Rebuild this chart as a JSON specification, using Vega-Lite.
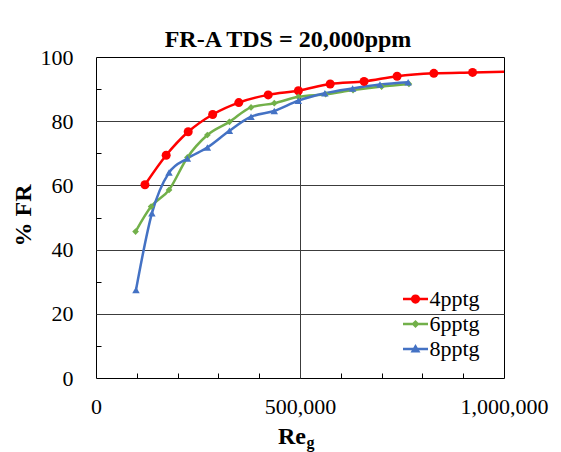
{
  "$schema": "https://vega.github.io/schema/vega-lite/v6.json",
  "width": 408,
  "height": 321,
  "autosize": {"type": "none"},
  "padding": {"left": 96, "top": 57, "right": 57, "bottom": 74},
  "background": "white",
  "title": {
    "text": "FR-A TDS = 20,000ppm",
    "font": "Liberation Serif",
    "fontSize": 24,
    "fontWeight": "bold",
    "color": "black",
    "anchor": "middle",
    "frame": "group",
    "dx": -12,
    "dy": 35,
    "baseline": "alphabetic",
    "offset": 10
  },
  "config": {
    "view": {"stroke": "black", "strokeWidth": 1},
    "font": "Liberation Serif",
    "legend": {
      "orient": "none",
      "legendX": 305.5,
      "legendY": 228,
      "padding": 0,
      "labelFont": "Liberation Serif",
      "labelFontSize": 22,
      "labelColor": "black",
      "labelOffset": 0,
      "symbolSize": 625,
      "symbolStrokeWidth": 2.5,
      "symbolOpacity": 1,
      "rowPadding": 0
    }
  },
  "resolve": {"axis": {"x": "independent"}},
  "data": {
    "values": [
      {"series": "4pptg", "re": 120000, "fr": 60.2},
      {"series": "4pptg", "re": 172000, "fr": 69.4},
      {"series": "4pptg", "re": 226000, "fr": 76.7},
      {"series": "4pptg", "re": 286000, "fr": 82.1},
      {"series": "4pptg", "re": 350000, "fr": 85.8},
      {"series": "4pptg", "re": 422000, "fr": 88.2},
      {"series": "4pptg", "re": 496000, "fr": 89.5},
      {"series": "4pptg", "re": 574000, "fr": 91.6},
      {"series": "4pptg", "re": 657000, "fr": 92.4},
      {"series": "4pptg", "re": 738000, "fr": 94.0},
      {"series": "4pptg", "re": 828000, "fr": 94.9},
      {"series": "4pptg", "re": 923000, "fr": 95.2},
      {"series": "4pptg", "re": 1020000, "fr": 95.5},
      {"series": "6pptg", "re": 97000, "fr": 45.6},
      {"series": "6pptg", "re": 135000, "fr": 53.4},
      {"series": "6pptg", "re": 179000, "fr": 58.6},
      {"series": "6pptg", "re": 224000, "fr": 68.7},
      {"series": "6pptg", "re": 273000, "fr": 75.7},
      {"series": "6pptg", "re": 327000, "fr": 79.8},
      {"series": "6pptg", "re": 380000, "fr": 84.3},
      {"series": "6pptg", "re": 437000, "fr": 85.6},
      {"series": "6pptg", "re": 496000, "fr": 87.6},
      {"series": "6pptg", "re": 563000, "fr": 88.4},
      {"series": "6pptg", "re": 630000, "fr": 89.7},
      {"series": "6pptg", "re": 700000, "fr": 90.8},
      {"series": "6pptg", "re": 767000, "fr": 91.6},
      {"series": "8pptg", "re": 98000, "fr": 27.4},
      {"series": "8pptg", "re": 137000, "fr": 51.3},
      {"series": "8pptg", "re": 179000, "fr": 64.0},
      {"series": "8pptg", "re": 224000, "fr": 68.4},
      {"series": "8pptg", "re": 273000, "fr": 71.8},
      {"series": "8pptg", "re": 327000, "fr": 77.0},
      {"series": "8pptg", "re": 380000, "fr": 81.4},
      {"series": "8pptg", "re": 437000, "fr": 83.2},
      {"series": "8pptg", "re": 496000, "fr": 86.4},
      {"series": "8pptg", "re": 561000, "fr": 88.7},
      {"series": "8pptg", "re": 629000, "fr": 90.2},
      {"series": "8pptg", "re": 696000, "fr": 91.4},
      {"series": "8pptg", "re": 765000, "fr": 92.1}
    ]
  },
  "encoding": {
    "x": {
      "field": "re",
      "type": "quantitative",
      "scale": {"domain": [0, 1000000], "nice": false, "zero": false},
      "axis": null
    },
    "y": {
      "field": "fr",
      "type": "quantitative",
      "scale": {"domain": [0, 100], "nice": false},
      "axis": {
        "values": [0, 10, 20, 30, 40, 50, 60, 70, 80, 90, 100],
        "labelExpr": "datum.value % 20 === 0 ? datum.label : ''",
        "grid": true,
        "gridColor": {"condition": {"test": "datum.value % 20 === 0 && datum.value > 0 && datum.value < 100", "value": "#3c3c3c"}, "value": "transparent"},
        "gridWidth": 1,
        "tickSize": -5,
        "tickColor": {"condition": {"test": "datum.value % 20 === 0", "value": "transparent"}, "value": "black"},
        "labelPadding": 28,
        "labelFont": "Liberation Serif",
        "labelFontSize": 22,
        "labelColor": "black",
        "labelFlush": false,
        "labelOverlap": false,
        "domain": false,
        "title": "% FR",
        "titleFont": "Liberation Serif",
        "titleFontSize": 24,
        "titleFontWeight": "bold",
        "titleColor": "black",
        "titleX": -66,
        "titleY": 158,
        "titleBaseline": "alphabetic",
        "titleAngle": -90
      }
    },
    "color": {
      "field": "series",
      "type": "nominal",
      "scale": {"domain": ["4pptg", "6pptg", "8pptg"], "range": ["#ff0000", "#72b04a", "#4472c4"]},
      "legend": {"title": null}
    }
  },
  "layer": [
    {
      "mark": {"type": "line", "strokeWidth": 2.5, "interpolate": "monotone", "clip": true},
      "encoding": {
        "x": {
          "field": "re",
          "type": "quantitative",
          "scale": {"domain": [0, 1000000], "nice": false, "zero": false},
          "axis": {
            "orient": "bottom",
            "values": [0, 100000, 200000, 300000, 400000, 500000, 600000, 700000, 800000, 900000, 1000000],
            "labelExpr": "datum.value % 500000 === 0 ? format(datum.value, ',') : ''",
            "grid": true,
            "gridColor": {"condition": {"test": "datum.value === 500000", "value": "#3c3c3c"}, "value": "transparent"},
            "gridWidth": 1,
            "tickSize": -5,
            "tickColor": {"condition": {"test": "datum.value % 500000 === 0", "value": "transparent"}, "value": "black"},
            "labelPadding": 23,
            "labelFont": "Liberation Serif",
            "labelFontSize": 22,
            "labelColor": "black",
            "labelFlush": false,
            "labelOverlap": false,
            "domain": false,
            "title": "Re",
            "titleFont": "Liberation Serif",
            "titleFontSize": 24,
            "titleFontWeight": "bold",
            "titleColor": "black",
            "titleX": 195.5,
            "titleY": 65,
            "titleBaseline": "alphabetic"
          }
        }
      }
    },
    {
      "transform": [{"filter": "datum.series === '4pptg'"}],
      "mark": {"type": "point", "shape": "circle", "size": 81, "filled": true, "opacity": 1, "clip": true}
    },
    {
      "transform": [{"filter": "datum.series === '6pptg'"}],
      "mark": {"type": "point", "shape": "diamond", "size": 45, "filled": true, "opacity": 1, "clip": true}
    },
    {
      "transform": [{"filter": "datum.series === '8pptg'"}],
      "mark": {"type": "point", "shape": "triangle-up", "size": 56, "filled": true, "opacity": 1, "clip": true}
    },
    {
      "transform": [{"filter": "false"}],
      "mark": {"type": "point", "filled": true, "opacity": 1},
      "encoding": {
        "x": {
          "field": "re",
          "type": "quantitative",
          "scale": {"domain": [0, 1000000], "nice": false, "zero": false},
          "axis": {
            "orient": "bottom",
            "domain": false,
            "ticks": false,
            "labels": false,
            "grid": false,
            "title": "g",
            "titleFont": "Liberation Serif",
            "titleFontSize": 16,
            "titleFontWeight": "bold",
            "titleColor": "black",
            "titleAlign": "left",
            "titleX": 210,
            "titleY": 69.5,
            "titleBaseline": "alphabetic"
          }
        },
        "fill": {"field": "series", "type": "nominal", "scale": {"domain": ["4pptg", "6pptg", "8pptg"], "range": ["#ff0000", "#72b04a", "#4472c4"]}, "legend": {"title": null}},
        "stroke": {"field": "series", "type": "nominal", "scale": {"domain": ["4pptg", "6pptg", "8pptg"], "range": ["#ff0000", "#72b04a", "#4472c4"]}, "legend": {"title": null}},
        "shape": {"field": "series", "type": "nominal", "scale": {"domain": ["4pptg", "6pptg", "8pptg"], "range": ["M-1,0H1M-0.27,0A0.27,0.27 0 1,0 0.27,0A0.27,0.27 0 1,0 -0.27,0Z", "M-1,0H1M-0.18,0L0,-0.18L0.18,0L0,0.18Z", "M-1,0H1M-0.22,0.17L0,-0.2L0.22,0.17Z"]}, "legend": {"title": null}}
      }
    }
  ]
}
